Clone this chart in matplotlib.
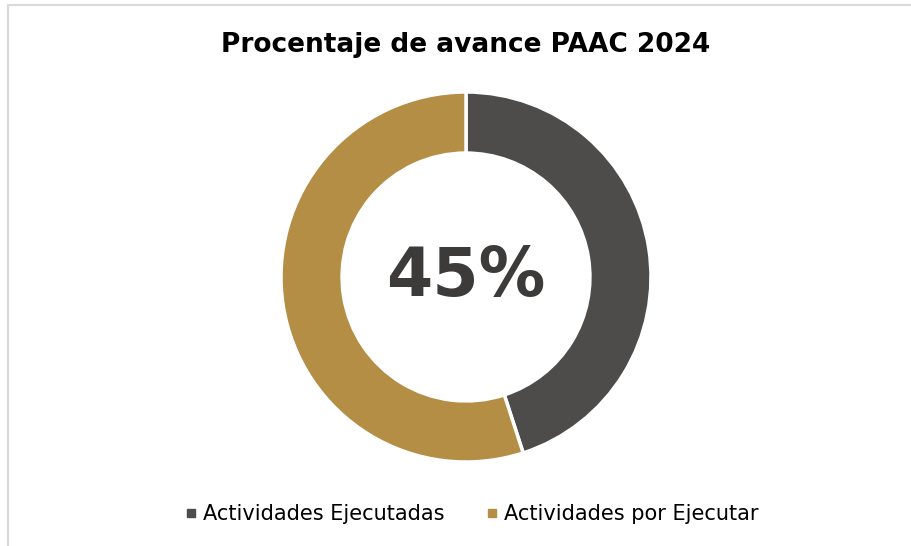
import matplotlib
matplotlib.use("Agg")
import matplotlib.pyplot as plt
from matplotlib.lines import Line2D

plt.rcParams["font.family"] = ["DejaVu Sans"]

labels = ["Actividades Ejecutadas", "Actividades por Ejecutar"]
values = [45, 55]
colors = ["#4E4C4A", "#B38E44"]
title = "Procentaje de avance PAAC 2024"
center_label = "45%"

W, H = 911, 546
fig = plt.figure(figsize=(W / 100, H / 100), dpi=100)
fig.patch.set_facecolor("white")

# frame lines (top & left)
fig.add_artist(Line2D([8 / W, 1], [1 - 5 / H, 1 - 5 / H], color="#D9D9D9", lw=1.5, transform=fig.transFigure))
fig.add_artist(Line2D([8 / W, 8 / W], [0, 1 - 5 / H], color="#D9D9D9", lw=1.5, transform=fig.transFigure))

cx, cy, r = 466, 277, 185
ax = fig.add_axes([(cx - r) / W, (H - cy - r) / H, 2 * r / W, 2 * r / H])
wedges, _ = ax.pie(values, colors=colors, startangle=90, counterclock=False,
                   radius=1, wedgeprops=dict(width=0.33, edgecolor="white", linewidth=2.5))
ax.set_xlim(-1, 1)
ax.set_ylim(-1, 1)
ax.set_aspect("equal")
ax.axis("off")

ax.text(0, 0, center_label, ha="center", va="center", fontsize=48, fontweight="bold", color="#3D3B39")

fig.text(466 / W, 1 - 45 / H, title, ha="center", va="center", fontsize=19, fontweight="bold", color="black")

handles = [Line2D([], [], marker="s", linestyle="none", markersize=6, color=c) for c in colors]
fig.legend(handles, labels, loc="center", bbox_to_anchor=(472 / W, 1 - 514 / H), ncol=2, frameon=False,
           fontsize=15, handlelength=0.5, handletextpad=0.35, columnspacing=2.0)

fig.savefig("out.png", dpi=100, facecolor="white")
